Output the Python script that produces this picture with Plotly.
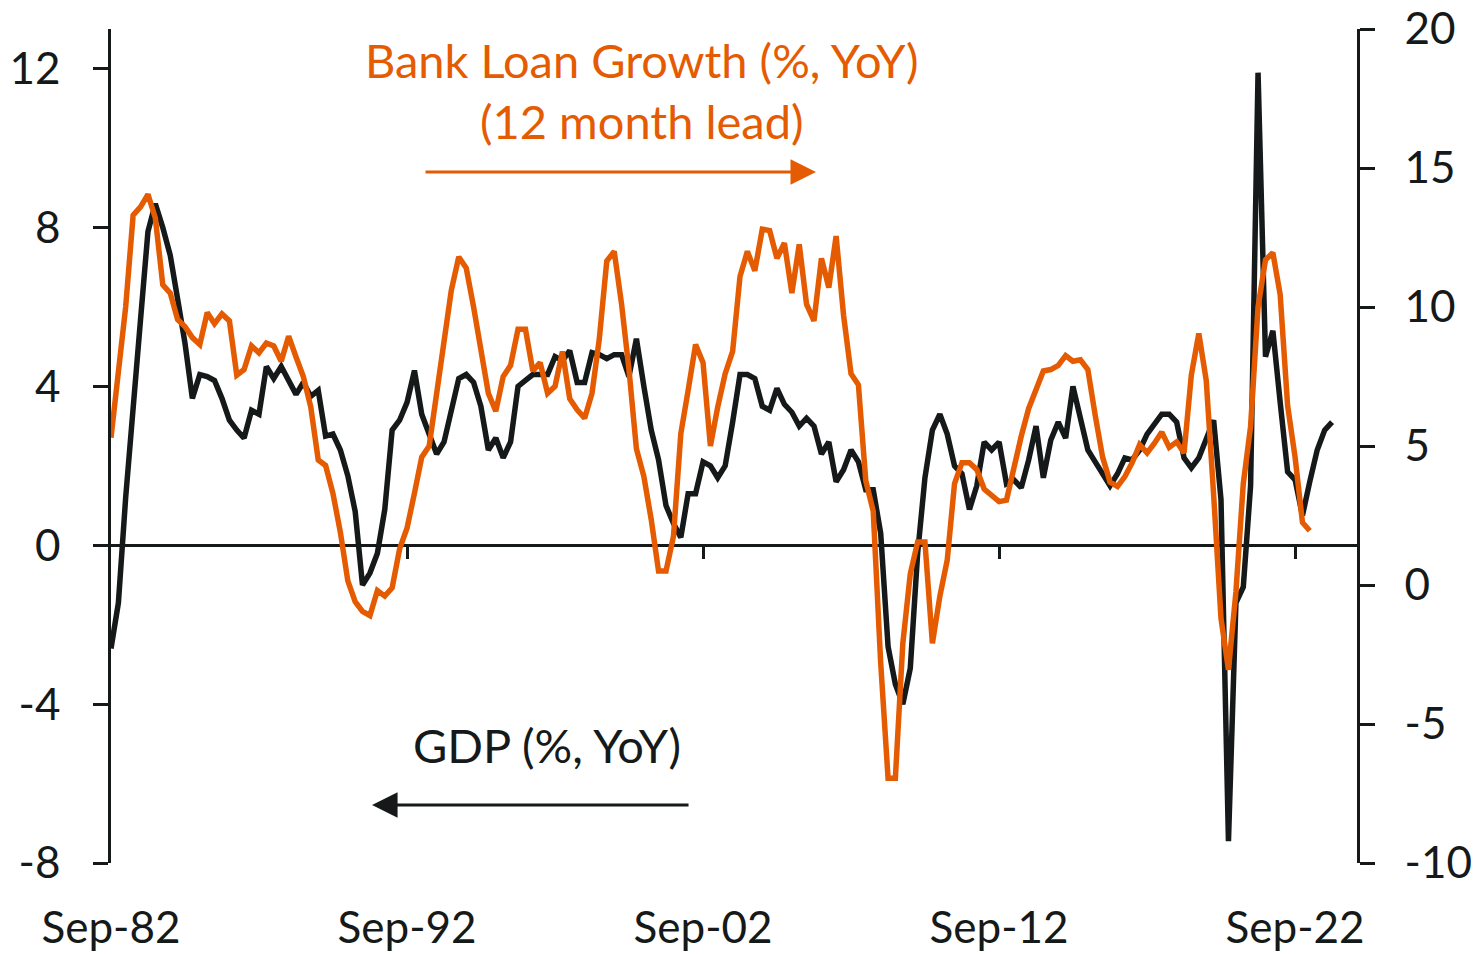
import pandas as pd
import plotly.graph_objects as go

# US real GDP, % year on year, quarterly from Sep-82 (left axis)
gdp_yoy = [
    -2.6, -1.45, 1.2, 3.3, 5.7, 7.9, 8.6, 8.0, 7.3, 6.2,
    5.1, 3.7, 4.3, 4.25, 4.15, 3.7, 3.15, 2.9, 2.7, 3.4,
    3.3, 4.5, 4.2, 4.5, 4.15, 3.8, 4.1, 3.75, 3.9, 2.75,
    2.8, 2.4, 1.75, 0.85, -1.0, -0.7, -0.2, 0.9, 2.9, 3.15,
    3.6, 4.4, 3.3, 2.8, 2.3, 2.6, 3.4, 4.2, 4.3, 4.1,
    3.5, 2.4, 2.7, 2.2, 2.6, 4.0, 4.15, 4.3, 4.3, 4.3,
    4.75, 4.65, 4.9, 4.1, 4.1, 4.85, 4.8, 4.7, 4.8, 4.8,
    4.25, 5.2, 4.0, 2.9, 2.15, 1.0, 0.55, 0.2, 1.3, 1.3,
    2.1, 2.0, 1.7, 2.0, 3.1, 4.3, 4.3, 4.2, 3.5, 3.4,
    3.95, 3.55, 3.35, 3.0, 3.2, 3.0, 2.3, 2.6, 1.6, 1.9,
    2.4, 2.1, 1.4, 1.4, 0.3, -2.55, -3.5, -4.0, -3.1, -0.2,
    1.7, 2.9, 3.3, 2.8, 2.0, 1.8, 0.9, 1.5, 2.6, 2.4,
    2.6, 1.55, 1.65, 1.45, 2.15, 3.0, 1.7, 2.65, 3.1, 2.7,
    4.0, 3.25, 2.4, 2.1, 1.8, 1.5, 1.8, 2.2, 2.15, 2.4,
    2.8, 3.05, 3.3, 3.3, 3.1, 2.2, 1.95, 2.2, 2.7, 3.15,
    1.15, -7.45, -1.45, -1.05, 1.5, 11.9, 4.75, 5.4, 3.6, 1.85,
    1.65, 0.75, 1.6, 2.4, 2.9, 3.1,
]

# Bank loan growth, % year on year, shifted 12 months forward (right axis)
loan_growth_lead = [
    5.3, 7.5, 10.0, 13.3, 13.6, 14.05, 13.2, 10.8, 10.5, 9.55,
    9.3, 8.9, 8.65, 9.8, 9.4, 9.75, 9.5, 7.55, 7.75, 8.6,
    8.35, 8.7, 8.6, 8.05, 8.95, 8.2, 7.5, 6.4, 4.5, 4.3,
    3.3, 1.9, 0.15, -0.6, -0.95, -1.1, -0.2, -0.4, -0.1, 1.3,
    2.05, 3.3, 4.6, 5.0, 6.8, 8.7, 10.6, 11.8, 11.4, 10.0,
    8.35, 6.9, 6.25, 7.5, 7.9, 9.2, 9.2, 7.7, 8.0, 6.9,
    7.15, 8.4, 6.7, 6.3, 6.0, 6.9, 8.85, 11.65, 12.0, 10.1,
    7.75, 4.9, 3.9, 2.35, 0.5, 0.5, 1.75, 5.45, 7.0, 8.65,
    8.0, 5.0, 6.4, 7.6, 8.4, 11.1, 12.0, 11.3, 12.8, 12.75,
    11.75, 12.3, 10.5, 12.25, 10.1, 9.5, 11.75, 10.7, 12.55, 9.7,
    7.6, 7.2, 3.75, 2.65, -2.8, -6.95, -6.95, -2.1, 0.4, 1.55,
    1.55, -2.1, -0.4, 0.9, 3.65, 4.4, 4.4, 4.15, 3.45, 3.25,
    3.0, 3.05, 4.25, 5.35, 6.35, 7.0, 7.7, 7.75, 7.9, 8.25,
    8.05, 8.1, 7.75, 6.1, 4.6, 3.7, 3.55, 3.9, 4.4, 5.05,
    4.75, 5.1, 5.5, 4.95, 5.15, 4.75, 7.55, 9.05, 7.35, 3.25,
    -1.2, -3.05, -0.25, 3.65, 5.7, 10.0, 11.7, 11.95, 10.45, 6.45,
    4.6, 2.25, 1.95,
]

tick_dates = ["1982-09-01", "1992-09-01", "2002-09-01", "2012-09-01", "2022-09-01"]
tick_labels = ["Sep-82", "Sep-92", "Sep-02", "Sep-12", "Sep-22"]
left_ticks = [-8, -4, 0, 4, 8, 12]
right_ticks = [-10, -5, 0, 5, 10, 15, 20]

gdp_dates = pd.date_range("1982-09-01", periods=len(gdp_yoy), freq="3MS")
loan_dates = pd.date_range("1982-09-01", periods=len(loan_growth_lead), freq="3MS")

BLACK = "#151919"
ORANGE = "#E55B02"
FONT = "Lato"
FS = 44       # axis labels
FS_NOTE = 47  # chart notes
x_range = ["1982-09-01", "2024-10-04"]
left_range = [-8, 13]
right_range = [-10, 20]

fig = go.Figure()
fig.add_trace(go.Scatter(
    x=gdp_dates, y=gdp_yoy, mode="lines", name="GDP (%, YoY)",
    line=dict(color=BLACK, width=5.5), xaxis="x", yaxis="y",
))
# empty trace so the tick strip on the zero line gets its own subplot
fig.add_trace(go.Scatter(x=[], y=[], xaxis="x2", yaxis="y", showlegend=False, hoverinfo="skip"))
fig.add_trace(go.Scatter(
    x=loan_dates, y=loan_growth_lead, mode="lines", name="Bank Loan Growth (%, YoY)",
    line=dict(color=ORANGE, width=5.5), xaxis="x", yaxis="y2",
))

zero_pos = (0 - left_range[0]) / (left_range[1] - left_range[0])

fig.update_layout(
    width=1475, height=954,
    margin=dict(l=111, r=118, t=29, b=91),
    paper_bgcolor="white", plot_bgcolor="white",
    showlegend=False,
    font=dict(family=FONT, size=FS, color=BLACK),
    xaxis=dict(
        type="date", range=x_range, tickvals=tick_dates, ticktext=tick_labels,
        showline=False, showgrid=False, zeroline=False, ticks="", automargin=False,
        tickfont=dict(family=FONT, size=FS, color=BLACK), ticklabelstandoff=35,
    ),
    xaxis2=dict(
        type="date", range=x_range, overlaying="x", anchor="free", position=zero_pos,
        tickvals=tick_dates[1:], showticklabels=False, ticks="outside",
        ticklen=13, tickwidth=2.5, tickcolor=BLACK, automargin=False,
        showline=False, showgrid=False, zeroline=False,
    ),
    yaxis=dict(
        range=left_range, tickvals=left_ticks, ticktext=[str(v) for v in left_ticks],
        ticks="outside", ticklen=15, automargin=False,
        tickwidth=2.5, tickcolor=BLACK, showline=True, linewidth=2.5, linecolor=BLACK,
        showgrid=False, zeroline=True, zerolinecolor=BLACK, zerolinewidth=2.5,
        tickfont=dict(family=FONT, size=FS, color=BLACK), ticklabelstandoff=24,
    ),
    yaxis2=dict(
        range=right_range, tickvals=right_ticks, ticktext=[str(v) for v in right_ticks],
        overlaying="y", side="right", automargin=False,
        ticks="outside", ticklen=15, tickwidth=2.5, tickcolor=BLACK,
        showline=True, linewidth=2.5, linecolor=BLACK,
        showgrid=False, zeroline=False,
        tickfont=dict(family=FONT, size=FS, color=BLACK), ticklabelstandoff=21,
    ),
)

fig.add_annotation(
    text="Bank Loan Growth (%, YoY)", xref="paper", yref="paper",
    x=0.4262, y=0.9628, xanchor="center", yanchor="middle", showarrow=False,
    font=dict(family=FONT, size=FS_NOTE, color=ORANGE),
)
fig.add_annotation(
    text="(12 month lead)", xref="paper", yref="paper",
    x=0.4262, y=0.8897, xanchor="center", yanchor="middle", showarrow=False,
    font=dict(family=FONT, size=FS_NOTE, color=ORANGE),
)
fig.add_annotation(
    text="", xref="x domain", yref="y domain", axref="x domain", ayref="y domain",
    x=0.5658, y=0.8285, ax=0.2512, ay=0.8285,
    showarrow=True, arrowhead=2, arrowsize=1.7, arrowwidth=3, arrowcolor=ORANGE,
)
fig.add_annotation(
    text="GDP (%, YoY)", xref="paper", yref="paper",
    x=0.3499, y=0.1415, xanchor="center", yanchor="middle", showarrow=False,
    font=dict(family=FONT, size=FS_NOTE, color=BLACK),
)
fig.add_annotation(
    text="", xref="x domain", yref="y domain", axref="x domain", ayref="y domain",
    x=0.2095, y=0.0695, ax=0.4647, ay=0.0695,
    showarrow=True, arrowhead=2, arrowsize=1.7, arrowwidth=3, arrowcolor=BLACK,
)

fig.write_html("out.html")
